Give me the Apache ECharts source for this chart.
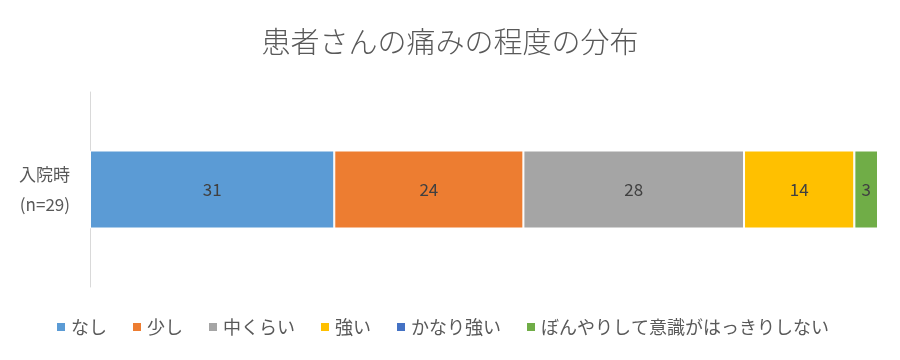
<!DOCTYPE html>
<html><head><meta charset="utf-8">
<script src="https://cdn.jsdelivr.net/npm/echarts@6/dist/echarts.min.js"></script>
<style>html,body{margin:0;padding:0;background:#fff}#c{width:900px;height:360px}</style>
</head><body><div id="c"></div>
<script>
const categories = ['入院時\n(n=29)'];
const seriesNames = ['なし','少し','中くらい','強い','かなり強い','ぼんやりして意識がはっきりしない'];
const seriesValues = [[31],[24],[28],[14],[0],[3]];
const colors = ['#5B9BD5','#ED7D31','#A5A5A5','#FFC000','#4472C4','#70AD47'];
const font = '"Noto Sans CJK JP", "Noto Sans", sans-serif';
const chart = echarts.init(document.getElementById('c'));
chart.setOption({
  animation:false,
  title:{text:'患者さんの痛みの程度の分布',left:'center',top:22,textStyle:{fontFamily:font,fontSize:29,fontWeight:300,color:'#595959'}},
  legend:{bottom:19,left:50,itemWidth:10,itemHeight:10,itemGap:24,icon:'rect',textStyle:{fontFamily:font,fontSize:18,color:'#595959'},data:seriesNames},
  grid:{left:90,right:22,top:92,bottom:73,containLabel:false},
  xAxis:{type:'value',min:0,max:100,show:false},
  yAxis:{type:'category',data:categories,axisLine:{lineStyle:{color:'#D9D9D9'}},axisTick:{show:false},
    axisLabel:{fontFamily:font,fontSize:17,color:'#595959',lineHeight:30,margin:20}},
  series:seriesNames.map((n,i)=>({name:n,type:'bar',stack:'a',barWidth:78,data:seriesValues[i],
    itemStyle:{color:colors[i],borderColor:'#fff',borderWidth:1},
    label:{show:seriesValues[i][0]>0,position:'inside',fontFamily:font,fontSize:17,color:'#404040'}}))
});
</script></body></html>
